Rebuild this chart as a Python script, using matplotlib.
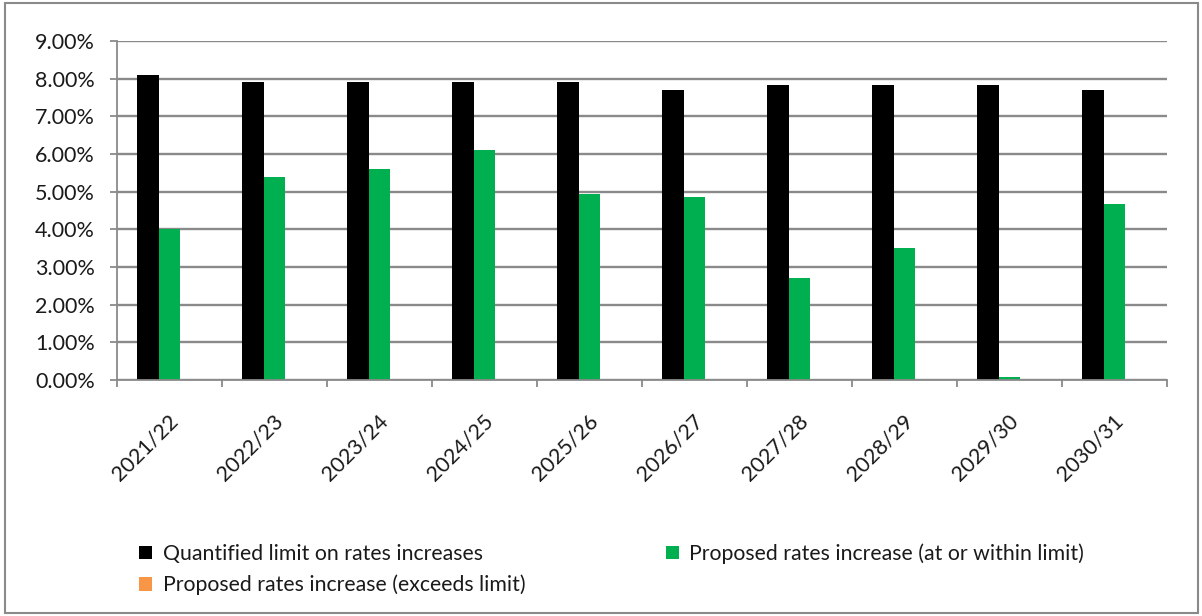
import numpy as np
import matplotlib
matplotlib.use('Agg')
import matplotlib.pyplot as plt
from matplotlib.patches import Rectangle
from matplotlib.ticker import FuncFormatter, MultipleLocator

years = ['2021/22', '2022/23', '2023/24', '2024/25', '2025/26',
         '2026/27', '2027/28', '2028/29', '2029/30', '2030/31']
limit = [8.10, 7.90, 7.90, 7.90, 7.90, 7.70, 7.82, 7.82, 7.82, 7.70]
within = [4.00, 5.40, 5.60, 6.10, 4.95, 4.87, 2.70, 3.50, 0.07, 4.67]
exceeds = [0, 0, 0, 0, 0, 0, 0, 0, 0, 0]

plt.rcParams['font.family'] = ['Lato', 'DejaVu Sans']
txt = '#1a1a1a'

fig = plt.figure(figsize=(12.02, 6.16), dpi=100)
ax = fig.add_axes([0.0973, 0.383, 0.8735, 0.5505])

x = np.arange(len(years))
w = 0.205
b1 = ax.bar(x - w, limit, w, color='black', label='Quantified limit on rates increases')
b3 = ax.bar(x + w, exceeds, w, color='#F79646', label='Proposed rates increase (exceeds limit)')
b2 = ax.bar(x, within, w, color='#00B050', label='Proposed rates increase (at or within limit)')

ax.set_xlim(-0.5, len(years) - 0.5)
ax.set_ylim(0, 9)
ax.yaxis.set_major_locator(MultipleLocator(1))
ax.yaxis.set_major_formatter(FuncFormatter(lambda v, p: '%.2f%%' % v))
ax.grid(axis='y', color='#8a8a8a', linewidth=1.7)
ax.set_axisbelow(True)

ax.set_xticks(x + 0.05)
ax.set_xticklabels(years, rotation=45, ha='right', va='center',
                   rotation_mode='anchor', fontsize=15.5, color=txt)
ax.set_xticks(np.arange(-0.5, len(years)), minor=True)
ax.tick_params(axis='x', which='major', length=0, pad=27)
ax.tick_params(axis='x', which='minor', length=5, color='#8a8a8a', width=1.3)
ax.tick_params(axis='y', length=5, color='#8a8a8a', width=1.3, labelsize=15.5,
               labelcolor=txt, pad=11)

for s in ['top', 'right']:
    ax.spines[s].set_visible(False)
for s in ['left', 'bottom']:
    ax.spines[s].set_color('#8a8a8a')
    ax.spines[s].set_linewidth(1.3)

handles = [b1, b3, b2]
fig.legend(handles=handles, labels=[h.get_label() for h in handles], ncol=2,
           loc='upper left', bbox_to_anchor=(0.1156, 0.118), frameon=False,
           borderpad=0, borderaxespad=0, labelcolor=txt,
           fontsize=15.3, handlelength=0.62, handleheight=0.62, handletextpad=0.5,
           columnspacing=6.6, labelspacing=0.5)

fig.patches.append(Rectangle((0.004, 0.005), 0.993, 0.99, transform=fig.transFigure,
                             fill=False, edgecolor='#8a8a8a', linewidth=1.5))

fig.savefig('out.png', dpi=100)
